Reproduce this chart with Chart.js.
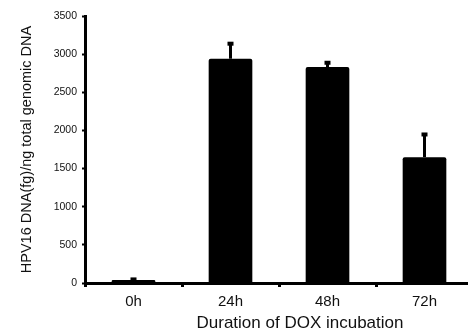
<!DOCTYPE html>
<html>
<head>
<meta charset="utf-8">
<script src="https://cdn.jsdelivr.net/npm/chart.js@4/dist/chart.umd.min.js"></script>
<style>
  body { margin: 0; background: #fff; overflow: hidden; }
</style>
</head>
<body>
<canvas id="chart" width="476" height="332"></canvas>
<script>
// data
const categories = ["0h", "24h", "48h", "72h"];
const values = [40, 2940, 2830, 1650];
const errors = [20, 210, 70, 310];
const yTicks = [0, 500, 1000, 1500, 2000, 2500, 3000, 3500];

const FONT = "'Liberation Sans', Arial, sans-serif";

// one-sided error bars drawn from the scale
const errorBars = {
  id: "errorBars",
  afterDatasetsDraw(chart) {
    const ctx = chart.ctx;
    const yScale = chart.scales.y;
    const meta = chart.getDatasetMeta(0);
    ctx.save();
    ctx.strokeStyle = "#000";
    ctx.fillStyle = "#000";
    meta.data.forEach((bar, i) => {
      const yTop = yScale.getPixelForValue(values[i] + errors[i]);
      const yBase = yScale.getPixelForValue(values[i]);
      ctx.lineWidth = 3;
      ctx.beginPath();
      ctx.moveTo(bar.x, yBase);
      ctx.lineTo(bar.x, yTop);
      ctx.stroke();
      ctx.fillRect(bar.x - 3, yTop - 1, 6, 4);
    });
    ctx.restore();
  },
  afterDraw(chart) {
    // x axis title sits a bit right of the plot centre in the figure
    const ctx = chart.ctx;
    const area = chart.chartArea;
    ctx.save();
    ctx.fillStyle = "#111";
    ctx.font = "17px " + FONT;
    ctx.textAlign = "center";
    ctx.textBaseline = "middle";
    ctx.fillText("Duration of DOX incubation", (area.left + area.right) / 2 + 21, 323);
    ctx.restore();
  },
};

new Chart(document.getElementById("chart").getContext("2d"), {
  type: "bar",
  data: {
    labels: categories,
    datasets: [
      {
        data: values,
        backgroundColor: "#000",
        borderWidth: 0,
        borderRadius: 2,
        borderSkipped: "bottom",
        barPercentage: 0.45,
        categoryPercentage: 1,
      },
    ],
  },
  options: {
    responsive: false,
    animation: false,
    layout: { padding: { top: 16, right: 3, left: 0, bottom: 0 } },
    plugins: {
      legend: { display: false },
      tooltip: { enabled: false },
    },
    scales: {
      x: {
        grid: {
          drawOnChartArea: false,
          tickLength: 4,
          tickWidth: 3,
          tickColor: "#000",
        },
        border: { color: "#000", width: 3 },
        ticks: {
          color: "#111",
          padding: 6,
          font: { family: FONT, size: 15 },
        },
        afterFit(scale) {
          scale.height = 49;
        },
      },
      y: {
        min: 0,
        max: 3500,
        afterBuildTicks(scale) {
          scale.ticks = yTicks.map((v) => ({ value: v }));
        },
        grid: {
          drawOnChartArea: false,
          tickLength: 3,
          tickWidth: 2,
          tickColor: "#000",
        },
        border: { color: "#000", width: 3 },
        ticks: {
          color: "#111",
          padding: 5,
          font: { family: FONT, size: 10.5 },
          callback: (v) => String(v),
        },
        title: {
          display: true,
          text: "HPV16 DNA(fg)/ng total genomic DNA",
          color: "#111",
          padding: { top: 18, bottom: 0 },
          font: { family: FONT, size: 14.5, lineHeight: 1.2 },
        },
        afterFit(scale) {
          scale.width = 85;
        },
      },
    },
  },
  plugins: [errorBars],
});
</script>
</body>
</html>
